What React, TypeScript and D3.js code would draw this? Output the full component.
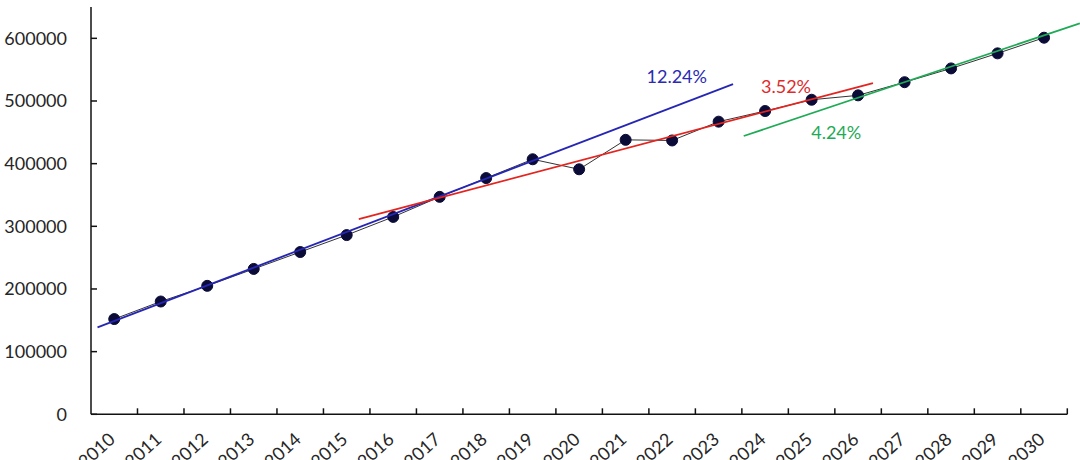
import React from 'react';
import * as d3 from 'd3';

// yearly values
const years = [2010, 2011, 2012, 2013, 2014, 2015, 2016, 2017, 2018, 2019, 2020,
  2021, 2022, 2023, 2024, 2025, 2026, 2027, 2028, 2029, 2030];
const values = [152000, 180000, 205000, 232000, 259000, 286000, 315000, 347000, 377000, 407000, 391000,
  438000, 437000, 467000, 484000, 502000, 509000, 530000, 552000, 576000, 601000];

const yTicks = [0, 100000, 200000, 300000, 400000, 500000, 600000];

// trend line end points as [year, value]
const blueTrend: [number, number][] = [[2009.64, 138800], [2023.31, 527000]];
const redTrend: [number, number][] = [[2015.26, 311600], [2026.32, 528600]];
const greenTrend: [number, number][] = [[2023.54, 444100], [2030.77, 623900]];

// growth rate labels
const rateLabels: { year: number; value: number; text: string; color: string }[] = [
  { year: 2022.1, value: 528200, text: '12.24%', color: '#2a2ab4' },
  { year: 2024.45, value: 512200, text: '3.52%', color: '#e02a2a' },
  { year: 2025.53, value: 438800, text: '4.24%', color: '#1faa55' },
];

const width = 1080;
const height = 460;
const font = 'Lato, "Open Sans", sans-serif';

const App: React.FC = () => {
  const x = d3.scaleLinear().domain([2009.5, 2030.5]).range([91, 1067.3]);
  const y = d3.scaleLinear().domain([0, 650000]).range([414.3, 7]);

  const line = d3.line<number>()
    .x((_, i) => x(years[i]))
    .y(d => y(d));
  const trend = d3.line<[number, number]>()
    .x(d => x(d[0]))
    .y(d => y(d[1]));

  const boundaries = d3.range(years.length + 1).map(i => years[0] - 0.5 + i);

  return (
    <svg width={width} height={height} style={{ position: 'absolute', left: 0, top: 0, background: '#fff' }}>
      {/* y axis */}
      <line x1={x(2009.5)} x2={x(2009.5)} y1={y(0)} y2={y(650000)} stroke="#111" strokeWidth={1.5} />
      {yTicks.map(t => (
        <g key={t}>
          <line x1={x(2009.5)} x2={x(2009.5) + 6} y1={y(t)} y2={y(t)} stroke="#111" strokeWidth={1.5} />
          <text x={67} y={y(t)} dy="0.36em" textAnchor="end" fontFamily={font} fontSize={18} fill="#262626">
            {t}
          </text>
        </g>
      ))}

      {/* x axis */}
      <line x1={x(2009.5)} x2={x(2030.5)} y1={y(0)} y2={y(0)} stroke="#111" strokeWidth={1.5} />
      {boundaries.slice(1).map(b => (
        <line key={b} x1={x(b)} x2={x(b)} y1={y(0)} y2={y(0) - 6} stroke="#111" strokeWidth={1.5} />
      ))}
      {years.map(yr => (
        <text
          key={yr}
          transform={`translate(${x(yr) + 2},${441}) rotate(-42)`}
          textAnchor="end"
          fontFamily={font}
          fontSize={18}
          fill="#262626"
        >
          {yr}
        </text>
      ))}

      {/* data */}
      <path d={line(values) ?? ''} fill="none" stroke="#333" strokeWidth={1} />
      {values.map((v, i) => (
        <circle key={years[i]} cx={x(years[i])} cy={y(v)} r={5.5} fill="#0b0b38" stroke="#0b0b38" strokeWidth={1} />
      ))}

      {/* trend lines */}
      <path d={trend(blueTrend) ?? ''} fill="none" stroke="#2626b4" strokeWidth={1.8} />
      <path d={trend(redTrend) ?? ''} fill="none" stroke="#e3241f" strokeWidth={1.8} />
      <path d={trend(greenTrend) ?? ''} fill="none" stroke="#1faa55" strokeWidth={1.8} />

      {rateLabels.map(l => (
        <text key={l.text} x={x(l.year)} y={y(l.value)} textAnchor="middle" fontFamily={font} fontSize={18} fill={l.color}>
          {l.text}
        </text>
      ))}
    </svg>
  );
};

export default App;
